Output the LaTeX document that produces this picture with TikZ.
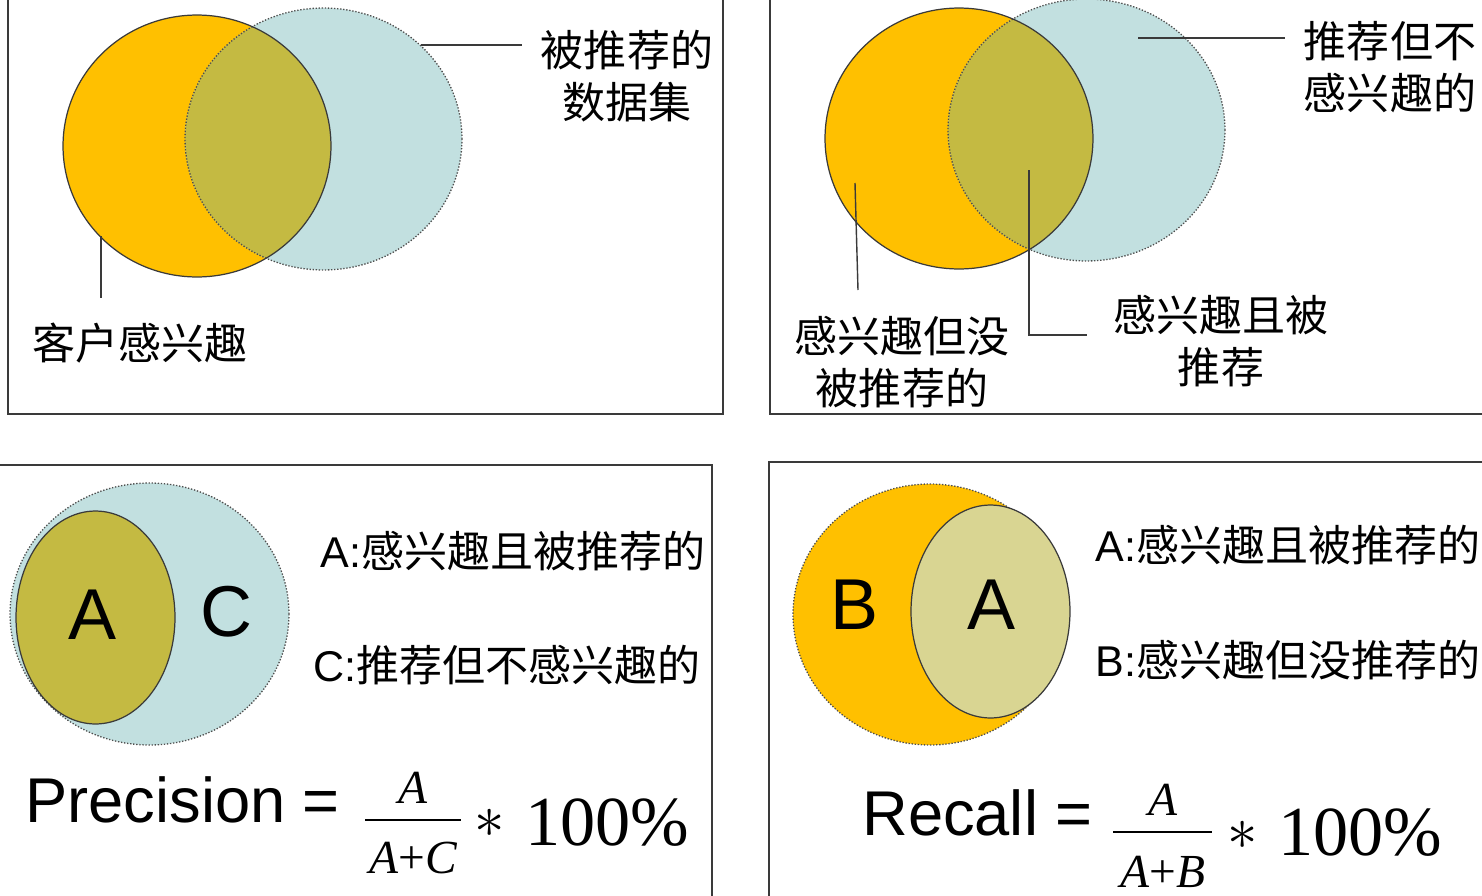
\documentclass[tikz,border=0pt]{standalone}
\usepackage{fontspec}
\usepackage{graphicx}
\newfontfamily\cjk{Noto Sans CJK SC}
\newfontfamily\arial{Liberation Sans}
\newfontfamily\tnr{Liberation Serif}
\usepackage{tikz}
\usetikzlibrary{positioning}
\definecolor{interest}{HTML}{FFC000}
\definecolor{recomm}{HTML}{C2E0E0}
\definecolor{hit}{HTML}{C4BA42}
\definecolor{hitlight}{HTML}{D9D592}
\definecolor{edge}{HTML}{3A3A3A}
% ellipse outlines, in pixel units of the frame
\def\pOneInt{(197,146) ellipse [x radius=2.68cm, y radius=2.62cm]}
\def\pOneRec{(323.5,139) ellipse [x radius=2.77cm, y radius=2.62cm]}
\def\pTwoInt{(959,138.5) ellipse [x radius=2.68cm, y radius=2.61cm]}
\def\pTwoRec{(1086.5,130) ellipse [x radius=2.77cm, y radius=2.62cm]}
\newcommand\fvar[1]{{\itshape #1}}

\begin{document}
\begin{tikzpicture}[x=0.02cm,y=-0.02cm,
    panel/.style={draw=edge,line width=0.85pt},
    leader/.style={draw=edge,line width=0.8pt},
    solidrim/.style={draw=edge,line width=0.7pt},
    dotrim/.style={draw=edge!90,densely dotted,line width=0.75pt},
    lbl/.style={font=\cjk\fontsize{24.5}{29.6}\selectfont,align=center,inner sep=0pt},
    keytext/.style={font=\fontsize{24.5}{29.6}\selectfont,anchor=west,inner sep=0pt},
    bigletter/.style={font=\arial\fontsize{41}{41}\selectfont,inner sep=0pt},
    formula/.style={font=\arial\fontsize{36}{36}\selectfont,inner sep=0pt,anchor=base west},
    fracpart/.style={font=\tnr\fontsize{27}{27}\selectfont,inner sep=0pt,anchor=base},
    starmark/.style={font=\fontsize{16}{16}\selectfont,inner sep=0pt},
    pct/.style={font=\tnr\fontsize{40}{40}\selectfont,inner sep=0pt,anchor=base west},
    fracbar/.style={draw=black,line width=1.4pt}]
  \path[use as bounding box,clip] (0,0) rectangle (1482,896);

  % panel frames
  \draw[panel] (8,-5) rectangle (723,414);
  \draw[panel] (770,-5) rectangle (1490,414);
  \draw[panel] (-5,465) rectangle (712,905);
  \draw[panel] (769,462) rectangle (1490,905);

  % panel 1: interest vs recommended
  \fill[interest] \pOneInt;
  \fill[recomm] \pOneRec;
  \begin{scope}
    \clip \pOneInt;
    \fill[hit] \pOneRec;
  \end{scope}
  \draw[dotrim] \pOneRec;
  \draw[solidrim] \pOneInt;
  \node[lbl] (p1rec) at (627,76) {被推荐的\\数据集};
  \node[lbl] (p1int) at (140,343) {客户感兴趣};
  \coordinate (p1recA) at (421,45);
  \coordinate (p1recB) at (522,45);
  \coordinate (p1intA) at (101,236);
  \coordinate (p1intB) at (101,298);
  \draw[leader] (p1recA) -- (p1recB);
  \draw[leader] (p1intA) -- (p1intB);

  % panel 2: the three regions
  \fill[interest] \pTwoInt;
  \fill[recomm] \pTwoRec;
  \begin{scope}
    \clip \pTwoInt;
    \fill[hit] \pTwoRec;
  \end{scope}
  \draw[dotrim] \pTwoRec;
  \draw[solidrim] \pTwoInt;
  \node[lbl] (p2fp) at (1390,67) {推荐但不\\感兴趣的};
  \node[lbl] (p2fn) at (902,362) {感兴趣但没\\被推荐的};
  \node[lbl] (p2tp) at (1221,341) {感兴趣且被\\推荐};
  \coordinate (p2fpA) at (1138,38);
  \coordinate (p2fpB) at (1285,38);
  \coordinate (p2fnA) at (855,183);
  \coordinate (p2fnB) at (858,290);
  \coordinate (p2tpA) at (1029,170);
  \coordinate (p2tpB) at (1087,335);
  \draw[leader] (p2fpA) -- (p2fpB);
  \draw[leader] (p2fnA) -- (p2fnB);
  \draw[leader] (p2tpA) |- (p2tpB);

  % panel 3: precision
  \fill[recomm] (149.5,614) ellipse [x radius=2.79cm, y radius=2.62cm];
  \draw[dotrim] (149.5,614) ellipse [x radius=2.79cm, y radius=2.62cm];
  \draw[solidrim,fill=hit] (95.5,617.5) ellipse [x radius=1.59cm, y radius=2.13cm];
  \node[bigletter] (p3a) at (93,615) {A};
  \node[bigletter] (p3c) at (227,612) {C};
  \node[keytext] (p3keya) at (320,551) {{\arial A:}{\cjk 感兴趣且被推荐的}};
  \node[keytext] (p3keyc) at (313,665) {{\arial C:}{\cjk 推荐但不感兴趣的}};
  \node[formula] (prec) at (25,822) {Precision =};
  \coordinate (pbarL) at (365,820);
  \coordinate (pbarR) at (461,820);
  \draw[fracbar] (pbarL) -- (pbarR);
  \node[fracpart] (pnum) at (413,803) {\fvar{A}};
  \node[fracpart] (pden) at (413,873) {\fvar{A}+\fvar{C}};
  \node[starmark] (pstar) at (490,823) {\scalebox{2}{$\ast$}};
  \node[pct] (ppct) at (525,845) {100\%};

  % panel 4: recall
  \fill[interest] (930,614.5) ellipse [x radius=2.74cm, y radius=2.61cm];
  \draw[dotrim] (930,614.5) ellipse [x radius=2.74cm, y radius=2.61cm];
  \draw[solidrim,fill=hitlight] (990.5,611.5) ellipse [x radius=1.59cm, y radius=2.13cm];
  \node[bigletter] (p4b) at (855,605) {B};
  \node[bigletter] (p4a) at (992,605) {A};
  \node[keytext] (p4keya) at (1095,545) {{\arial A:}{\cjk 感兴趣且被推荐的}};
  \node[keytext] (p4keyb) at (1095,660) {{\arial B:}{\cjk 感兴趣但没推荐的}};
  \node[formula] (rec) at (862,835) {Recall =};
  \coordinate (rbarL) at (1113,832);
  \coordinate (rbarR) at (1212,832);
  \draw[fracbar] (rbarL) -- (rbarR);
  \node[fracpart] (rnum) at (1163,815) {\fvar{A}};
  \node[fracpart] (rden) at (1163,887) {\fvar{A}+\fvar{B}};
  \node[starmark] (rstar) at (1243,835) {\scalebox{2}{$\ast$}};
  \node[pct] (rpct) at (1278,855) {100\%};
\end{tikzpicture}
\end{document}
